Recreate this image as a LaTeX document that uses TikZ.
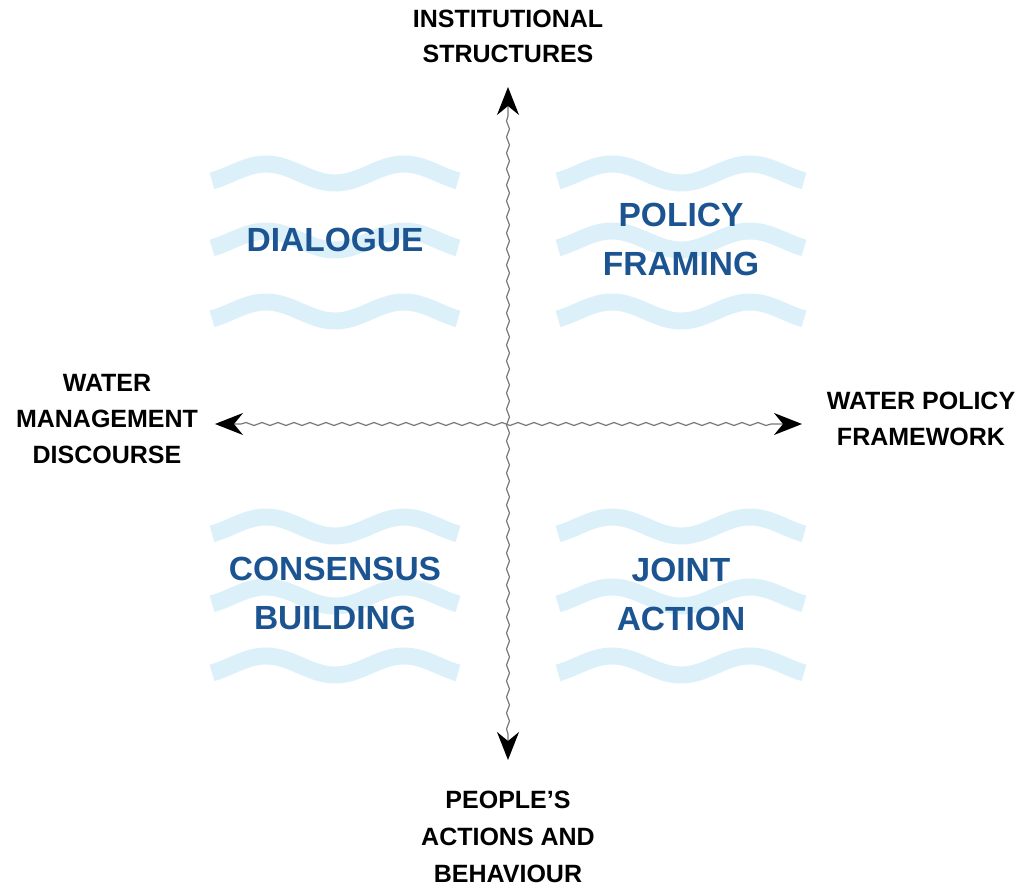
\documentclass[tikz,border=0pt]{standalone}
\usepackage{fontspec}
\setmainfont{Liberation Sans}
\usetikzlibrary{arrows.meta,decorations.pathmorphing}
\definecolor{wavecol}{RGB}{220,240,250}
\definecolor{quadcol}{RGB}{27,84,145}
\definecolor{axiscol}{RGB}{120,120,120}
\tikzset{
  wave/.style={draw=wavecol, line width=17pt, line cap=butt},
  quadtext/.style={text=quadcol, inner sep=0pt, align=center,
    font=\fontsize{33.5}{49}\selectfont\bfseries},
  axislabel/.style={text=black, inner sep=0pt, align=center,
    font=\fontsize{25}{36}\selectfont\bfseries},
  axisline/.style={draw=axiscol, line width=1.2pt, decorate,
    decoration={snake, amplitude=1.5pt, segment length=16pt, pre length=26pt, post length=26pt},
    {Stealth[length=28pt, width=22pt, inset=9pt, color=black]}-{Stealth[length=28pt, width=22pt, inset=9pt, color=black]}}
}
\newcommand\wavyband[2]{\draw[wave] plot[domain=0:246, samples=90, smooth] ({#1+\x},{#2-9.5*cos(2.6087*(\x-54))});}
\begin{document}
\begin{tikzpicture}[x=1pt,y=-1pt]
\useasboundingbox (0,0) rectangle (1023,888);
% waves
\foreach \xo in {212,558}{
  \foreach \yo in {173.5,240.5,311.5,526.5,596.5,665.5}{
    \wavyband{\xo}{\yo}
  }
}
% axis end points
\coordinate (top) at (508,87);
\coordinate (bot) at (508,760);
\coordinate (lft) at (215,424);
\coordinate (rgt) at (802,424);
\draw[axisline] (bot) -- (top);
\draw[axisline] (lft) -- (rgt);
% axis labels
\node[axislabel] (ltop) at (508,36) {INSTITUTIONAL\\[-1pt]STRUCTURES};
\node[axislabel] (lleft) at (107,419.5) {WATER\\MANAGEMENT\\DISCOURSE};
\node[axislabel] (lright) at (921,419) {WATER POLICY\\FRAMEWORK};
\node[axislabel] (lbot) at (508,837) {PEOPLE’S\\[1pt]ACTIONS AND\\[1pt]BEHAVIOUR};
% quadrant texts
\node[quadtext] (q1) at (335,240) {DIALOGUE};
\node[quadtext] (q2) at (681,239.5) {POLICY\\FRAMING};
\node[quadtext] (q3) at (335,593.5) {CONSENSUS\\BUILDING};
\node[quadtext] (q4) at (681,594) {JOINT\\ACTION};
\end{tikzpicture}
\end{document}
